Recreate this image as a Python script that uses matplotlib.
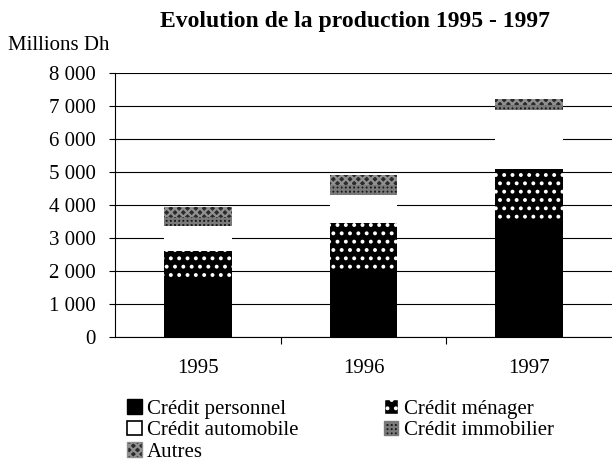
import matplotlib
matplotlib.use("Agg")
import numpy as np
import matplotlib.pyplot as plt
from matplotlib.patches import Patch

plt.rcParams['font.family'] = ['Liberation Serif', 'DejaVu Serif']
plt.rcParams['hatch.linewidth'] = 1.6

years = ["1995", "1996", "1997"]
personnel = [1750, 1950, 3480]
menager = [850, 1500, 1620]
automobile = [750, 850, 1780]
immobilier = [300, 300, 160]
autres = [300, 300, 160]
yticks = [0, 1000, 2000, 3000, 4000, 5000, 6000, 7000, 8000]


def fmt(v):
    return f"{v:,}".replace(",", " ")


fig = plt.figure(figsize=(6.12, 4.63), dpi=100)
ax = fig.add_axes([115 / 612, 1 - 337 / 463, 1 - 115 / 612, (337 - 73) / 463])

x = np.arange(len(years))
w = 0.41
bottom = np.zeros(len(years))

styles = [
    (personnel, dict(color="black")),
    (menager, dict(facecolor="black", edgecolor="white", hatch="..", linewidth=0)),
    (automobile, dict(color="white")),
    (immobilier, dict(facecolor="#1a1a1a", edgecolor="#7a7a7a", hatch="++++", linewidth=0)),
    (autres, dict(facecolor="#2a2a2a", edgecolor="#909090", hatch="xxxx", linewidth=0)),
]
for vals, st in styles:
    ax.bar(x, vals, w, bottom=bottom, zorder=2, **st)
    bottom += np.array(vals)

ax.set_xlim(-0.5, 2.5)
ax.set_ylim(0, 8000)
ax.set_yticks(yticks)
ax.set_yticklabels([fmt(v) for v in yticks], fontsize=15)
ax.yaxis.grid(True, color="black", linewidth=0.8, zorder=0)
ax.set_axisbelow(True)
ax.tick_params(axis="y", length=4, width=0.8, pad=10)

ax.set_xticks(x)
ax.set_xticklabels(years, fontsize=15)
ax.tick_params(axis="x", which="major", length=0, pad=16)
ax.set_xticks([0.5, 1.5], minor=True)
ax.tick_params(axis="x", which="minor", length=5, width=0.8)

for s in ["top", "right"]:
    ax.spines[s].set_visible(False)
for s in ["left", "bottom"]:
    ax.spines[s].set_linewidth(0.8)

fig.text(355 / 612, 1 - 22 / 463, "Evolution de la production 1995 - 1997",
         ha="center", va="center", fontsize=17, fontweight="bold")
fig.text(8 / 612, 1 - 45 / 463, "Millions Dh", ha="left", va="center", fontsize=15)

handles = [
    Patch(facecolor="black", edgecolor="black", label="Crédit personnel"),
    Patch(facecolor="white", edgecolor="black", linewidth=1.2, label="Crédit automobile"),
    Patch(facecolor="#2a2a2a", edgecolor="#909090", hatch="xxxx", label="Autres"),
    Patch(facecolor="black", edgecolor="white", hatch="..", label="Crédit ménager"),
    Patch(facecolor="#1a1a1a", edgecolor="#7a7a7a", hatch="++++", label="Crédit immobilier"),
]
fig.legend(handles=handles, ncol=2, loc="upper left",
           bbox_to_anchor=(127 / 612, 1 - 399 / 463), frameon=False,
           fontsize=15, handlelength=0.7, handleheight=0.7, handletextpad=0.25,
           labelspacing=0.1, columnspacing=4.1, borderpad=0, borderaxespad=0)

fig.savefig("out.png", dpi=100)
